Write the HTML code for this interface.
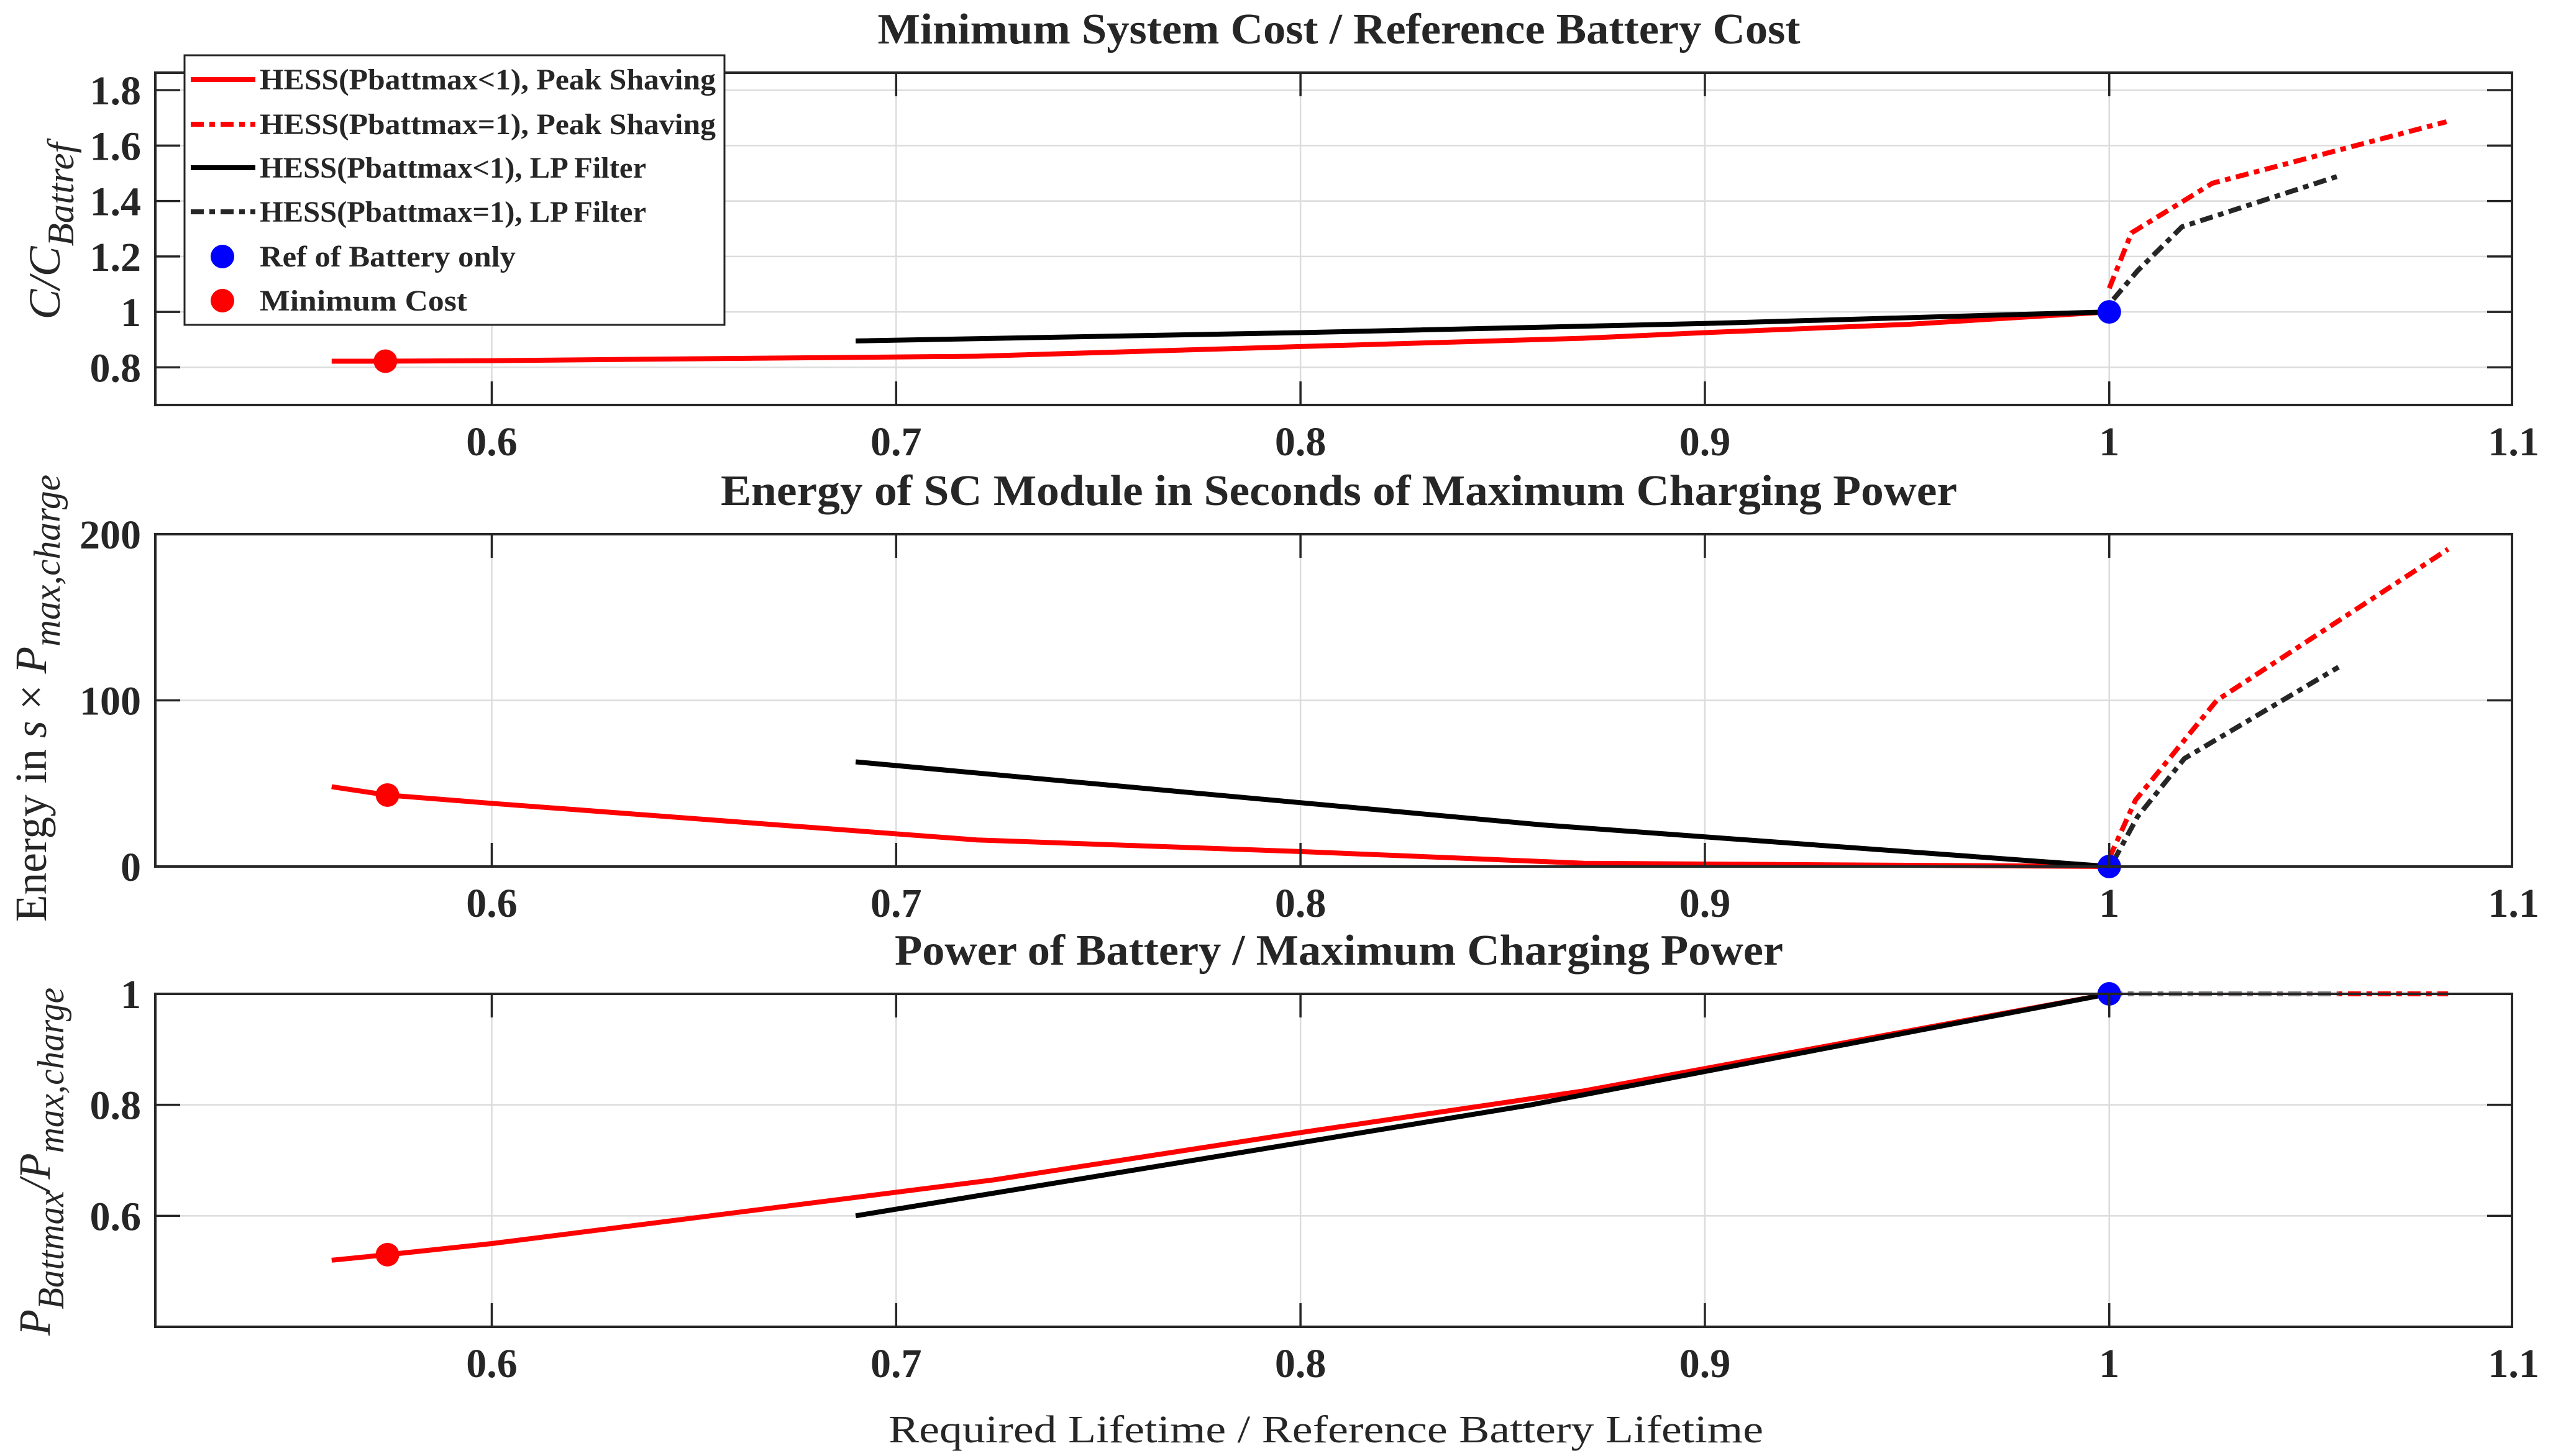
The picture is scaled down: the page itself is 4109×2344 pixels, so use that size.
<!DOCTYPE html>
<html><head><meta charset="utf-8"><style>
html,body{margin:0;padding:0;background:#fff;}
svg{display:block;}
text{font-family:"Liberation Serif",serif;fill:#262626;}
</style></head><body>
<svg id="chart" width="4109" height="2344" viewBox="0 0 4109 2344" xmlns="http://www.w3.org/2000/svg">
<g id="panels"></g>
<g id="legend">
  <rect x="297" y="89" width="869" height="434" fill="#fff" stroke="#262626" stroke-width="3"/>
  <g><line x1="307" y1="128" x2="411" y2="128" stroke="#f00" stroke-width="8"/><text x="418" y="144" font-size="48" font-weight="bold" textLength="734" lengthAdjust="spacingAndGlyphs">HESS(Pbattmax&lt;1), Peak Shaving</text></g>
  <g><line x1="307" y1="200" x2="411" y2="200" stroke="#f00" stroke-width="8" stroke-dasharray="21,9,9,9"/><text x="418" y="216" font-size="48" font-weight="bold" textLength="734" lengthAdjust="spacingAndGlyphs">HESS(Pbattmax=1), Peak Shaving</text></g>
  <g><line x1="307" y1="270" x2="411" y2="270" stroke="#000" stroke-width="8"/><text x="418" y="286" font-size="48" font-weight="bold" textLength="622" lengthAdjust="spacingAndGlyphs">HESS(Pbattmax&lt;1), LP Filter</text></g>
  <g><line x1="307" y1="341" x2="411" y2="341" stroke="#262626" stroke-width="8" stroke-dasharray="21,9,9,9"/><text x="418" y="357" font-size="48" font-weight="bold" textLength="622" lengthAdjust="spacingAndGlyphs">HESS(Pbattmax=1), LP Filter</text></g>
  <g><circle cx="358" cy="413" r="19" fill="#00f"/><text x="418" y="429" font-size="48" font-weight="bold" textLength="412" lengthAdjust="spacingAndGlyphs">Ref of Battery only</text></g>
  <g><circle cx="358" cy="484" r="19" fill="#f00"/><text x="418" y="500" font-size="48" font-weight="bold" textLength="334" lengthAdjust="spacingAndGlyphs">Minimum Cost</text></g>
</g>
<text x="2134" y="2322" font-size="62" text-anchor="middle" textLength="1408" lengthAdjust="spacingAndGlyphs">Required Lifetime / Reference Battery Lifetime</text>
</svg>
<script>
// ---- shared x ticks ----
const xTicks = [0.6, 0.7, 0.8, 0.9, 1.0, 1.1];
const xTickLabels = ["0.6", "0.7", "0.8", "0.9", "1", "1.1"];

// ---- panel 1: cost ----
const costPsLtX = [0.5604, 0.5737, 0.6, 0.72, 0.8, 0.87, 0.9, 0.95, 1.0];
const costPsLtY = [0.822, 0.822, 0.824, 0.84, 0.875, 0.905, 0.925, 0.955, 1.0];
const costLpLtX = [0.69, 0.8, 0.9, 1.0];
const costLpLtY = [0.895, 0.925, 0.958, 1.0];
const costPsEqX = [1.0, 1.0055, 1.0255, 1.0834];
const costPsEqY = [1.085, 1.285, 1.464, 1.686];
const costLpEqX = [1.001, 1.007, 1.018, 1.0567];
const costLpEqY = [1.045, 1.148, 1.307, 1.49];
const costYTicks = [0.8, 1, 1.2, 1.4, 1.6, 1.8];
const costYTickLabels = ["0.8", "1", "1.2", "1.4", "1.6", "1.8"];
const costRef = [1.0, 1.0];
const costMin = [0.5737, 0.822];

// ---- panel 2: energy ----
const enPsLtX = [0.5604, 0.5742, 0.6, 0.72, 0.8, 0.87, 0.9, 1.0];
const enPsLtY = [48, 43, 38, 16, 9, 2, 1.5, 0];
const enLpLtX = [0.69, 0.86, 1.0];
const enLpLtY = [63, 25, 0];
const enPsEqX = [1.0, 1.0065, 1.0266, 1.0838];
const enPsEqY = [5, 40, 100, 191];
const enLpEqX = [1.001, 1.007, 1.0186, 1.0567];
const enLpEqY = [3, 30, 65, 120];
const enYTicks = [0, 100, 200];
const enYTickLabels = ["0", "100", "200"];
const enRef = [1.0, 0];
const enMin = [0.5742, 43];

// ---- panel 3: power ----
const pwPsLtX = [0.5604, 0.5742, 0.6, 0.7243, 0.8, 0.87, 1.0];
const pwPsLtY = [0.52, 0.53, 0.55, 0.665, 0.75, 0.825, 1.0];
const pwLpLtX = [0.69, 0.857, 1.0];
const pwLpLtY = [0.6, 0.8, 1.0];
const pwPsEqX = [1.0, 1.0838];
const pwPsEqY = [1.0, 1.0];
const pwLpEqX = [1.0, 1.0567];
const pwLpEqY = [1.0, 1.0];
const pwYTicks = [0.6, 0.8, 1];
const pwYTickLabels = ["0.6", "0.8", "1"];
const pwRef = [1.0, 1.0];
const pwMin = [0.5742, 0.53];

const NS = "http://www.w3.org/2000/svg";
const root = document.getElementById('panels');
const L = 250, R = 4043, X0 = 0.5168, X1 = 1.0996;
function sx(v){ return L + (v - X0) / (X1 - X0) * (R - L); }
function mk(tag, attrs, parent){
  const e = document.createElementNS(NS, tag);
  for (const k in attrs) e.setAttribute(k, attrs[k]);
  parent.appendChild(e);
  return e;
}

function panel(cfg){
  const g = mk('g', {}, root);
  
  
  const sy = v => cfg.bot - (v - cfg.y0) / (cfg.y1 - cfg.y0) * (cfg.bot - cfg.top);
  xTicks.forEach(t => {
    if (t > X0 && t < X1 - 0.001) {
      const gl = mk('line', {x1: sx(t), x2: sx(t), y1: cfg.top, y2: cfg.bot, stroke: '#dcdcdc', 'stroke-width': 2.5}, g);
      
      
    }
  });
  cfg.yTicks.forEach(t => {
    const gl = mk('line', {x1: L, x2: R, y1: sy(t), y2: sy(t), stroke: '#dcdcdc', 'stroke-width': 2.5}, g);
    
    
  });
  const series = [
    {x: cfg.psLtX, y: cfg.psLtY, c: '#f00', d: null, n: 'peak-shaving-lt1-line'},
    {x: cfg.lpLtX, y: cfg.lpLtY, c: '#000', d: null, n: 'lp-filter-lt1-line'},
    {x: cfg.psEqX, y: cfg.psEqY, c: '#f00', d: '21,9,9,9', n: 'peak-shaving-eq1-line'},
    {x: cfg.lpEqX, y: cfg.lpEqY, c: cfg.lpEqColor, d: '21,9,9,9', n: 'lp-filter-eq1-line'}
  ];
  series.forEach(s => {
    const pts = s.x.map((v, i) => sx(v).toFixed(1) + ',' + sy(s.y[i]).toFixed(1)).join(' ');
    const p = mk('polyline', {points: pts, fill: 'none', stroke: s.c, 'stroke-width': 8, 'stroke-linejoin': 'round'}, g);
    if (s.d) p.setAttribute('stroke-dasharray', s.d);
    
    
  });
  const mr = mk('circle', {cx: sx(cfg.ref[0]), cy: sy(cfg.ref[1]), r: 19, fill: '#00f'}, g);
  
  
  const mm = mk('circle', {cx: sx(cfg.min[0]), cy: sy(cfg.min[1]), r: 19, fill: '#f00'}, g);
  
  
  const fr = mk('rect', {x: L, y: cfg.top, width: R - L, height: cfg.bot - cfg.top, fill: 'none', stroke: '#262626', 'stroke-width': 4}, g);
  
  
  xTicks.forEach((t, i) => {
    const x = sx(t);
    if (t < X1 - 0.001) {
      mk('line', {x1: x, x2: x, y1: cfg.bot, y2: cfg.bot - 38, stroke: '#262626', 'stroke-width': 3.5}, g);
      mk('line', {x1: x, x2: x, y1: cfg.top, y2: cfg.top + 38, stroke: '#262626', 'stroke-width': 3.5}, g);
    }
    const tl = mk('text', {x: Math.min(x, 4076), y: cfg.bot + 81, 'font-size': 66, 'font-weight': 'bold', 'text-anchor': 'middle'}, g);
    tl.textContent = xTickLabels[i];
    
    
  });
  cfg.yTicks.forEach((t, i) => {
    const y = sy(t);
    mk('line', {x1: L, x2: L + 40, y1: y, y2: y, stroke: '#262626', 'stroke-width': 3.5}, g);
    mk('line', {x1: R, x2: R - 40, y1: y, y2: y, stroke: '#262626', 'stroke-width': 3.5}, g);
    const tl = mk('text', {x: 227, y: y + 23, 'font-size': 66, 'font-weight': 'bold', 'text-anchor': 'end'}, g);
    tl.textContent = cfg.yTickLabels[i];
    
    
  });
  const tt = mk('text', {x: 2155, y: cfg.top - 47, 'font-size': 70, 'font-weight': 'bold', 'text-anchor': 'middle', textLength: cfg.titleLen, lengthAdjust: 'spacingAndGlyphs'}, g);
  tt.textContent = cfg.title;
  
  
  const yl = mk('text', {transform: `translate(${cfg.ylx},${cfg.ylc}) rotate(-90)`, 'font-size': 72, 'text-anchor': 'middle', textLength: cfg.ylLen, lengthAdjust: 'spacingAndGlyphs'}, g);
  yl.innerHTML = cfg.ylabel;
  
  
}

panel({name: 'cost-panel', top: 117, bot: 652, y0: 0.664, y1: 1.863,
  psLtX: costPsLtX, psLtY: costPsLtY, lpLtX: costLpLtX, lpLtY: costLpLtY,
  psEqX: costPsEqX, psEqY: costPsEqY, lpEqX: costLpEqX, lpEqY: costLpEqY, lpEqColor: '#262626',
  yTicks: costYTicks, yTickLabels: costYTickLabels, ref: costRef, min: costMin,
  title: 'Minimum System Cost / Reference Battery Cost', titleLen: 1485,
  ylx: 96, ylc: 372, ylLen: 285,
  ylabel: '<tspan font-style="italic">C/C</tspan><tspan font-style="italic" font-size="60" dy="22">Battref</tspan>'});

panel({name: 'energy-panel', top: 860, bot: 1395, y0: 0, y1: 200,
  psLtX: enPsLtX, psLtY: enPsLtY, lpLtX: enLpLtX, lpLtY: enLpLtY,
  psEqX: enPsEqX, psEqY: enPsEqY, lpEqX: enLpEqX, lpEqY: enLpEqY, lpEqColor: '#262626',
  yTicks: enYTicks, yTickLabels: enYTickLabels, ref: enRef, min: enMin,
  title: 'Energy of SC Module in Seconds of Maximum Charging Power', titleLen: 1990,
  ylx: 74, ylc: 1124, ylLen: 720,
  ylabel: 'Energy in <tspan font-style="italic">s</tspan> × <tspan font-style="italic">P</tspan><tspan font-style="italic" font-size="60" dy="22">max,charge</tspan>'});

panel({name: 'power-panel', top: 1600, bot: 2136, y0: 0.4, y1: 1.0,
  psLtX: pwPsLtX, psLtY: pwPsLtY, lpLtX: pwLpLtX, lpLtY: pwLpLtY,
  psEqX: pwPsEqX, psEqY: pwPsEqY, lpEqX: pwLpEqX, lpEqY: pwLpEqY, lpEqColor: '#808080',
  yTicks: pwYTicks, yTickLabels: pwYTickLabels, ref: pwRef, min: pwMin,
  title: 'Power of Battery / Maximum Charging Power', titleLen: 1430,
  ylx: 80, ylc: 1870, ylLen: 560,
  ylabel: '<tspan font-style="italic">P</tspan><tspan font-style="italic" font-size="60" dy="22">Battmax</tspan><tspan dy="-22" font-style="italic">/P</tspan><tspan font-style="italic" font-size="60" dy="22">max,charge</tspan>'});
</script>
</body></html>
